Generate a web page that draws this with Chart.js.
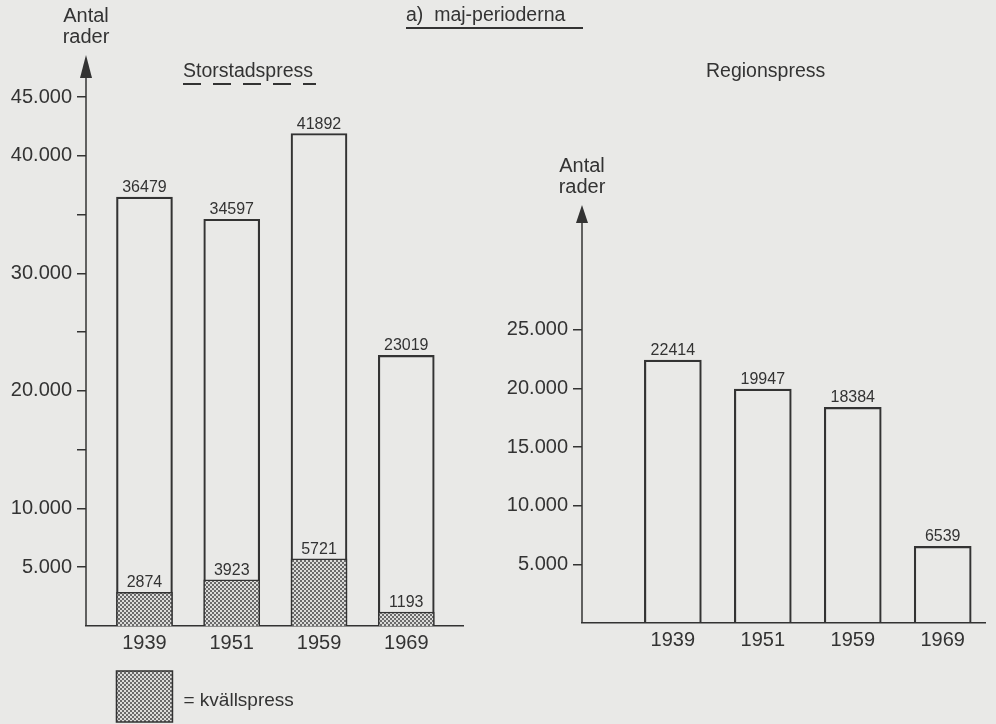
<!DOCTYPE html>
<html>
<head>
<meta charset="utf-8">
<title>maj-perioderna</title>
<script src="https://cdn.jsdelivr.net/npm/chart.js"></script>
<style>
body{margin:0;background:#e9e9e7;}
#wrap{position:relative;width:996px;height:724px;overflow:hidden;font-family:"Liberation Sans",Arial,sans-serif;color:#333;}
canvas{position:absolute;top:0;}
.t{position:absolute;font-size:19.5px;line-height:20px;white-space:nowrap;z-index:2;}
.line{position:absolute;z-index:2;}
</style>
</head>
<body>
<div id="wrap">
  <canvas id="storstad" width="496" height="724" style="left:0"></canvas>
  <canvas id="region" width="500" height="724" style="left:496px"></canvas>
  <div class="t" style="left:406px;top:4px">a)&nbsp; maj-perioderna</div>
  <div class="line" style="left:406px;top:27px;width:177px;height:1.5px;background:#333"></div>
  <div class="t" style="left:183px;top:60px">Storstadspress</div>
  <div class="line" style="left:183px;top:83px;width:133px;height:2px;background:repeating-linear-gradient(to right,#333 0 18px,transparent 18px 30px)"></div>
  <div class="t" style="left:706px;top:60px">Regionspress</div>
</div>
<script>
// data
const years = ['1939', '1951', '1959', '1969'];
const storstadTotal = [36479, 34597, 41892, 23019];
const storstadKvall = [2874, 3923, 5721, 1193];   // kvällspress part
const regionTotal = [22414, 19947, 18384, 6539];

const storstadTicks = [5000, 10000, 15000, 20000, 25000, 30000, 35000, 40000, 45000];
const storstadTickLabels = [5000, 10000, 20000, 30000, 40000, 45000]; // 15/25/35 only tick mark
const regionTicks = [5000, 10000, 15000, 20000, 25000];

const ink = '#333';
const font = '"Liberation Sans", Arial, sans-serif';

// dot screen for kvällspress
function stipple(){
	const c = document.createElement('canvas');
	c.width = 4; c.height = 4;
	const g = c.getContext('2d');
	g.fillStyle = '#dcdcda'; g.fillRect(0, 0, 4, 4);
	g.fillStyle = '#6a6a6a';
	g.fillRect(0, 0, 2, 2); g.fillRect(2, 2, 2, 2);
	return g.createPattern(c, 'repeat');
}
const dots = stipple();

function punkt(v){ return String(v).replace(/\B(?=(\d{3})+(?!\d))/g, '.'); } // 45000 -> 45.000

const pts = arr => arr.map((v, i) => ({x: i, y: v}));

// numbers over bars, y axis with arrow, "Antal rader", legend box
const extras = {
	id: 'extras',
	afterDatasetsDraw(chart, args, o){
		const ctx = chart.ctx, a = chart.chartArea;
		ctx.save();
		ctx.fillStyle = ink; ctx.strokeStyle = ink;
		ctx.font = '16px ' + font;
		ctx.textAlign = 'center'; ctx.textBaseline = 'alphabetic';
		chart.data.datasets.forEach((ds, di) => {
			chart.getDatasetMeta(di).data.forEach((bar, i) => {
				ctx.fillText(ds.data[i].y, bar.x, bar.y - 5);
			});
		});
		// y axis
		ctx.lineWidth = 1.5;
		ctx.beginPath(); ctx.moveTo(a.left, a.bottom); ctx.lineTo(a.left, a.top); ctx.stroke();
		const tip = a.top - o.arrow;
		ctx.beginPath();
		ctx.moveTo(a.left, tip); ctx.lineTo(a.left - 6, a.top + 1); ctx.lineTo(a.left + 6, a.top + 1);
		ctx.closePath(); ctx.fill();
		ctx.font = '20px ' + font;
		ctx.fillText('rader', a.left, tip - 12);
		ctx.fillText('Antal', a.left, tip - 33);
		if (o.legend){
			const b = chart.getDatasetMeta(0).data[0];
			const x = b.x - b.width / 2, y = a.bottom + 45;
			ctx.fillStyle = dots; ctx.fillRect(x, y, b.width, 51);
			ctx.strokeRect(x, y, b.width, 51);
			ctx.fillStyle = ink; ctx.textAlign = 'left'; ctx.font = '19px ' + font;
			ctx.fillText('= ' + chart.data.datasets[0].label, x + b.width + 11, y + 35);
		}
		ctx.restore();
	}
};

function panel(id, datasets, yMax, ticks, labels, xmin, xmax, pad, arrow, legend){
	return new Chart(document.getElementById(id), {
		type: 'bar',
		data: { datasets },
		options: {
			responsive: false, animation: false, devicePixelRatio: 1,
			layout: { padding: pad },
			plugins: { legend: { display: false }, tooltip: { enabled: false }, extras: { arrow, legend } },
			scales: {
				x: {
					type: 'linear', min: xmin, max: xmax, offset: false, z: 1,
					grid: { display: false, drawTicks: false },
					border: { display: true, color: ink, width: 1.5 },
					afterBuildTicks: s => { s.ticks = years.map((y, i) => ({ value: i })); },
					afterFit: s => { s.height = 40; },
					ticks: { padding: 5, color: ink, font: { family: font, size: 20 }, callback: (v, i) => years[i] }
				},
				y: {
					min: 0, max: yMax,
					grid: { drawOnChartArea: false, tickLength: 9, color: ink, lineWidth: 1.5 },
					border: { display: false },
					afterBuildTicks: s => { s.ticks = ticks.map(v => ({ value: v })); },
					afterFit: s => { s.width = 86; },
					ticks: { padding: 5, color: ink, font: { family: font, size: 20 }, callback: v => labels.includes(v) ? punkt(v) : '' }
				}
			}
		},
		plugins: [extras]
	});
}

panel('storstad', [
	{ label: 'kvällspress', data: pts(storstadKvall), backgroundColor: dots, borderColor: ink, borderWidth: 1.5, grouped: false, barThickness: 56 },
	{ label: 'Storstadspress', data: pts(storstadTotal), backgroundColor: 'rgba(0,0,0,0)', borderColor: ink, borderWidth: 1.5, grouped: false, barThickness: 56 }
], 46700, storstadTicks, storstadTickLabels, -0.67, 3.65, { top: 77, bottom: 58, left: 0, right: 33 }, 22, true);

panel('region', [
	{ label: 'Regionspress', data: pts(regionTotal), backgroundColor: 'rgba(0,0,0,0)', borderColor: ink, borderWidth: 1.5, grouped: false, barThickness: 57 }
], 34200, regionTicks, regionTicks, -1.01, 3.47, { top: 222, bottom: 61, left: 0, right: 11 }, 17, false);
</script>
</body>
</html>
